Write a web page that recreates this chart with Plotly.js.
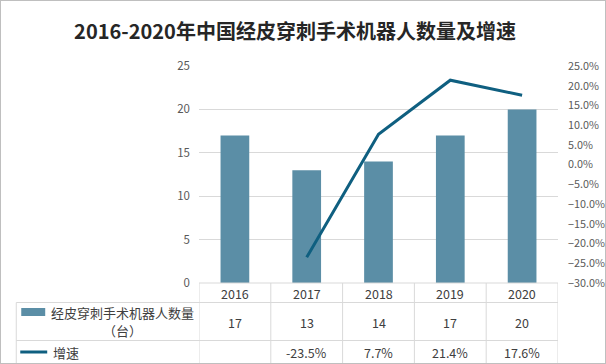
<!DOCTYPE html>
<html><head><meta charset="utf-8">
<script src="https://cdn.plot.ly/plotly-3.0.1.min.js"></script>
<style>
html,body{margin:0;padding:0;background:#fff;}
#wrap{position:relative;width:606px;height:364px;}
#chart{position:absolute;left:0;top:0;width:606px;height:364px;}
#frame{position:absolute;left:0;top:0;width:606px;height:364px;box-sizing:border-box;border:1px solid #bfbfbf;pointer-events:none;}
</style></head>
<body><div id="wrap"><div id="chart"></div><div id="frame"></div></div>
<script>
const titleText = "2016-2020年中国经皮穿刺手术机器人数量及增速";
const years = ["2016","2017","2018","2019","2020"];
const counts = [17, 13, 14, 17, 20];
const growth = [null, -23.5, 7.7, 21.4, 17.6];
const barName = "经皮穿刺手术机器人数量（台）";
const lineName = "增速";

const FONT = '"Noto Sans CJK SC","Microsoft YaHei",sans-serif';
const barColor = '#5b8ea6';
const lineColor = '#0f5f80';
const gridColor = '#d9d9d9';
const tableText = '#404040';

// pixel helpers for table layout (plot area: x 199..558.5, y 66..283)
const L = 199, R = 558.5, T = 66, B = 283;
const px = p => (p - L) / (R - L);
const py = p => (B - p) / (B - T);

const shapes = [];
const annotations = [];
// table horizontal lines
[302.5, 340.5].forEach(yy => shapes.push({type:'line', xref:'paper', yref:'paper', x0:px(16), x1:1, y0:py(yy), y1:py(yy), line:{color:gridColor, width:1}}));
shapes.push({type:'line', xref:'paper', yref:'paper', x0:0, x1:1, y0:0, y1:0, line:{color:gridColor, width:1}});
// vertical lines at category boundaries
for (let i = 0; i <= years.length; i++) {
  shapes.push({type:'line', xref:'x', yref:'paper', x0:i-0.5, x1:i-0.5, y0:0, y1:py(364), line:{color:gridColor, width:1}});
}
shapes.push({type:'line', xref:'paper', yref:'paper', x0:px(16), x1:px(16), y0:py(302.5), y1:py(364), line:{color:gridColor, width:1}});
// legend keys
shapes.push({type:'rect', xref:'paper', yref:'paper', x0:px(21), x1:px(45), y0:py(316), y1:py(308), fillcolor:barColor, line:{width:0}});
shapes.push({type:'line', xref:'paper', yref:'paper', x0:px(20), x1:px(47), y0:py(352), y1:py(352), line:{color:lineColor, width:3}});

// table texts (x given as category index on the x axis)
const tf = {family:FONT, size:12.5, color:tableText};
years.forEach((y, i) => {
  annotations.push({xref:'x', yref:'paper', x:i, y:py(293), text:y, showarrow:false, font:tf, xanchor:'center', yanchor:'middle'});
  annotations.push({xref:'x', yref:'paper', x:i, y:py(322), text:String(counts[i]), showarrow:false, font:tf, xanchor:'center', yanchor:'middle'});
  if (growth[i] !== null) {
    annotations.push({xref:'x', yref:'paper', x:i, y:py(352), text:growth[i].toFixed(1) + '%', showarrow:false, font:tf, xanchor:'center', yanchor:'middle'});
  }
});
const nameParts = [barName.slice(0, barName.indexOf('（')), barName.slice(barName.indexOf('（'))];
annotations.push({xref:'paper', yref:'paper', x:px(122.5), y:py(312), text:nameParts[0], showarrow:false, font:{family:FONT, size:13, color:tableText}, xanchor:'center', yanchor:'middle'});
annotations.push({xref:'paper', yref:'paper', x:px(122.5), y:py(330), text:nameParts[1], showarrow:false, font:{family:FONT, size:13, color:tableText}, xanchor:'center', yanchor:'middle'});
annotations.push({xref:'paper', yref:'paper', x:px(51), y:py(352), text:lineName, showarrow:false, font:{family:FONT, size:13, color:tableText}, xanchor:'left', yanchor:'middle'});

const data = [
  {type:'bar', x:years, y:counts, name:barName, marker:{color:barColor}, width:0.4, hoverinfo:'skip'},
  {type:'scatter', mode:'lines', x:years, y:growth, name:lineName, yaxis:'y2', line:{color:lineColor, width:3}, connectgaps:false, hoverinfo:'skip'}
];

const layout = {
  width:606, height:364,
  margin:{l:L, r:606-R, t:T, b:364-B, pad:0},
  paper_bgcolor:'rgba(0,0,0,0)', plot_bgcolor:'rgba(0,0,0,0)',
  showlegend:false,
  title:{text:titleText, font:{family:FONT, size:20, color:'#262626', weight:'bold'}, x:295/606, xanchor:'center', xref:'container', y:1-32/364, yanchor:'middle', yref:'container'},
  xaxis:{type:'category', range:[-0.5, years.length-0.5], showticklabels:false, showgrid:false, zeroline:false, showline:false, ticks:''},
  yaxis:{range:[0,25], dtick:5, tick0:0, showgrid:true, gridcolor:gridColor, gridwidth:1, zeroline:false, showline:false, ticks:'', ticklabelstandoff:8, tickfont:{family:FONT, size:11.5, color:'#595959'}},
  yaxis2:{overlaying:'y', side:'right', range:[-30,25], dtick:5, tick0:-30, tickformat:'.1f', ticksuffix:'%', showgrid:false, zeroline:false, showline:false, ticks:'', ticklabelstandoff:9, tickfont:{family:FONT, size:10.8, color:'#595959'}},
  shapes:shapes, annotations:annotations
};
Plotly.newPlot('chart', data, layout, {displayModeBar:false, staticPlot:true});
</script></body></html>
